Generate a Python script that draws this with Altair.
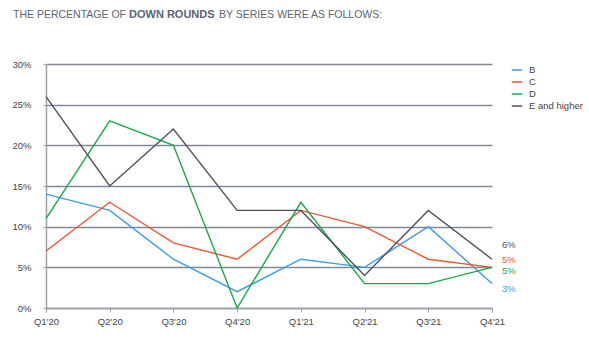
import altair as alt
import pandas as pd

quarters = ["Q1'20", "Q2'20", "Q3'20", "Q4'20", "Q1'21", "Q2'21", "Q3'21", "Q4'21"]
series_names = ["B", "C", "D", "E and higher"]
b_vals = [14, 12, 6, 2, 6, 5, 10, 3]
c_vals = [7, 13, 8, 6, 12, 10, 6, 5]
d_vals = [11, 23, 20, 0, 13, 3, 3, 5]
e_vals = [26, 15, 22, 12, 12, 4, 12, 6]
colors = ["#3d9be9", "#f0552e", "#1aa84a", "#4b5262"]
label_dy = [5, -7, 4, -14]

rows = []
for name, vals in zip(series_names, [b_vals, c_vals, d_vals, e_vals]):
    for q, v in zip(quarters, vals):
        rows.append({"quarter": q, "series": name, "value": v})
df = pd.DataFrame(rows)

FONT = "Liberation Sans"

x_enc = alt.X("quarter:N", sort=quarters,
              scale=alt.Scale(type="point", padding=0),
              axis=alt.Axis(title=None, labelAngle=0, labelFont=FONT, labelFontSize=9.5,
                            labelColor="#444444", domainColor="#9aa1a8", domainWidth=1.5,
                            tickColor="#9aa1a8", tickSize=4, labelPadding=4, grid=False))
y_enc = alt.Y("value:Q", scale=alt.Scale(domain=[0, 30], nice=False),
              axis=alt.Axis(title=None, values=[0, 5, 10, 15, 20, 25, 30],
                            labelExpr="datum.value + '%'", labelFont=FONT, labelFontSize=9.5,
                            labelColor="#444444", domainColor="#9aa1a8", domainWidth=1.5,
                            tickColor="#9aa1a8", tickSize=3, labelPadding=12,
                            gridColor="#7f8a96", gridWidth=1.4, gridOpacity=1))

color_enc = alt.Color("series:N", sort=series_names,
                      scale=alt.Scale(domain=series_names, range=colors),
                      legend=alt.Legend(title=None, orient="none", legendX=465, legendY=0,
                                        symbolType="stroke", symbolSize=110, symbolStrokeWidth=1.5,
                                        labelFont=FONT, labelFontSize=9.5, labelColor="#444444",
                                        rowPadding=1, labelOffset=6, labelLimit=200))

lines = alt.Chart(df).mark_line(strokeWidth=1.4).encode(x=x_enc, y=y_enc, color=color_enc)

end_rows = []
for name, vals, dy in zip(series_names, [b_vals, c_vals, d_vals, e_vals], label_dy):
    end_rows.append({"quarter": quarters[-1], "series": name, "value": vals[-1],
                     "label": f"{vals[-1]}%", "dy": dy})

end_layers = []
for r in end_rows:
    end_layers.append(
        alt.Chart(pd.DataFrame([r])).mark_text(align="left", baseline="middle", dx=10, dy=r["dy"],
                                               font=FONT, fontSize=9.5).encode(
            x=alt.X("quarter:N", sort=quarters), y="value:Q",
            text="label:N",
            color=alt.Color("series:N", scale=alt.Scale(domain=series_names, range=colors), legend=None))
    )

title_parts = [("THE PERCENTAGE OF", "normal", 10.5, -33), ("DOWN ROUNDS", "bold", 11, 83),
               ("BY SERIES WERE AS FOLLOWS:", "normal", 10.5, 173)]
title_layers = []
for txt, wt, fs, xp in title_parts:
    title_layers.append(
        alt.Chart(pd.DataFrame([{"t": txt}])).mark_text(align="left", baseline="middle", font=FONT,
                                                        fontSize=fs, fontWeight=wt, color="#5b6575").encode(
            x=alt.value(xp), y=alt.value(-49), text="t:N")
    )

chart = alt.layer(lines, *end_layers, *title_layers).properties(
    width=446, height=244,
    autosize=alt.AutoSizeParams(type="none"),
    padding={"left": 46, "top": 64, "right": 97, "bottom": 35},
    background="white",
).configure_view(stroke=None).resolve_scale(color="shared")

chart.save("out.html", embed_options={"renderer": "svg", "actions": False})
